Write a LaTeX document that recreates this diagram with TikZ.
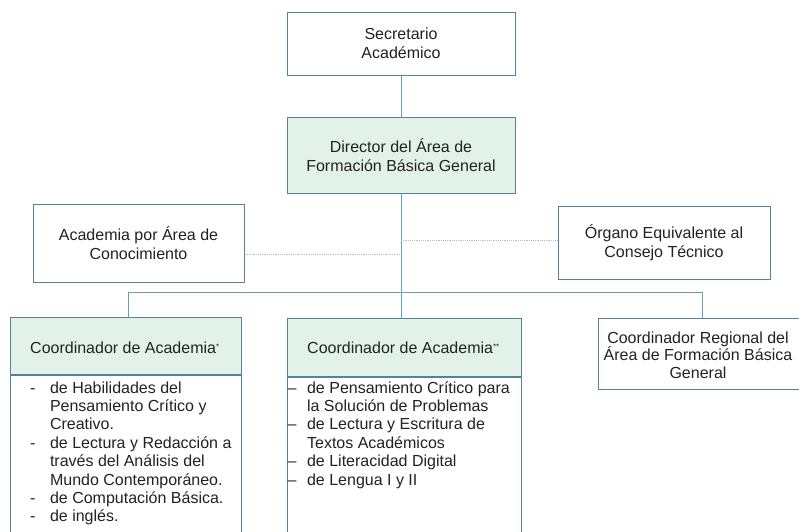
\documentclass[tikz,border=0pt]{standalone}
\usepackage{fontspec}
\setmainfont{Liberation Sans}
\definecolor{bordc}{HTML}{55819F}
\definecolor{connc}{HTML}{6A9FB8}
\definecolor{headfill}{HTML}{E2F2E9}
\definecolor{dotc}{HTML}{B4BEC2}
\definecolor{txtc}{HTML}{222222}
\begin{document}
\begin{tikzpicture}[x=1pt,y=-1pt,
  box/.style={draw=bordc, line width=1pt, rectangle, inner sep=0pt, align=center,
    text=txtc, font=\fontsize{16}{19.5}\selectfont},
  headbox/.style={box, fill=headfill},
  conn/.style={draw=connc, line width=1pt},
  dotline/.style={draw=dotc, line width=1pt, dash pattern=on 1.2pt off 1pt},
  txt/.style={inner sep=0pt, text=txtc, font=\fontsize{16}{19}\selectfont},
  listtxt/.style={inner sep=0pt, text=txtc, align=left, font=\fontsize{16}{18.4}\selectfont}]
\useasboundingbox (0,0) rectangle (799,531);
\clip (0,0) rectangle (799,531);
\fill[white] (0,0) rectangle (799,531);

% top boxes
\node[box, minimum width=228pt, minimum height=63pt] (sec) at (401,43.5) {Secretario\\Académico};
\node[headbox, minimum width=228pt, minimum height=76pt] (dir) at (401,155) {Director del Área de\\Formación Básica General};

% side boxes
\node[box, minimum width=211pt, minimum height=78pt] (acad) at (138.5,243) {Academia por Área de\\Conocimiento};
\node[box, minimum width=212pt, minimum height=73pt] (org) at (664,242.5) {Órgano Equivalente al\\Consejo Técnico};

% coordinator box 1
\node[headbox, minimum width=231pt, minimum height=57pt] (h1) at (125.5,345.5) {};
\node[txt, anchor=west] (h1t) at (30,348) {Coordinador de Academia\raisebox{4pt}{\fontsize{8}{8}\selectfont*}};
\node[box, minimum width=231pt, minimum height=180pt, anchor=north] (b1) at (h1.south) {};
\node[listtxt, anchor=north west] (l1) at (30,380) {%
\begin{tabular}{@{}l@{\hspace{14.5pt}}l@{}}
-&de Habilidades del\\
 &Pensamiento Crítico y\\
 &Creativo.\\
-&de Lectura y Redacción a\\
 &través del Análisis del\\
 &Mundo Contemporáneo.\\
-&de Computación Básica.\\
-&de inglés.
\end{tabular}};

% coordinator box 2
\node[headbox, minimum width=234pt, minimum height=58pt] (h2) at (404,347) {};
\node[txt, anchor=west] (h2t) at (307,348) {Coordinador de Academia\raisebox{4pt}{\fontsize{8}{8}\selectfont**}};
\node[box, minimum width=234pt, minimum height=180pt, anchor=north] (b2) at (h2.south) {};
\node[listtxt, anchor=north west] (l2) at (287.5,380) {%
\begin{tabular}{@{}l@{\hspace{10.5pt}}l@{}}
--&de Pensamiento Crítico para\\
  &la Solución de Problemas\\
--&de Lectura y Escritura de\\
  &Textos Académicos\\
--&de Literacidad Digital\\
--&de Lengua I y II
\end{tabular}};

% regional coordinator
\node[box, minimum width=210pt, minimum height=71pt, anchor=north west] (b3) at (598,318) {};
\node[txt, align=center, font=\fontsize{16}{17.5}\selectfont] (b3t) at (698,355) {Coordinador Regional del\\Área de Formación Básica\\General};

% connectors
\coordinate (busL) at (128,292);
\coordinate (busR) at (702,292);
\coordinate (dl) at (401,254);
\coordinate (dr) at (401,240);
\draw[conn] (sec.south) -- (dir.north);
\draw[conn] (dir.south) -- (dir.south |- h2.north);
\draw[conn] (busL) -- (busR);
\draw[conn] (busL) -- (busL |- h1.north);
\draw[conn] (busR) -- (busR |- b3.north);
\draw[dotline] (acad.east |- dl) -- (dl);
\draw[dotline] (dr) -- (dr -| org.west);
\end{tikzpicture}
\end{document}
